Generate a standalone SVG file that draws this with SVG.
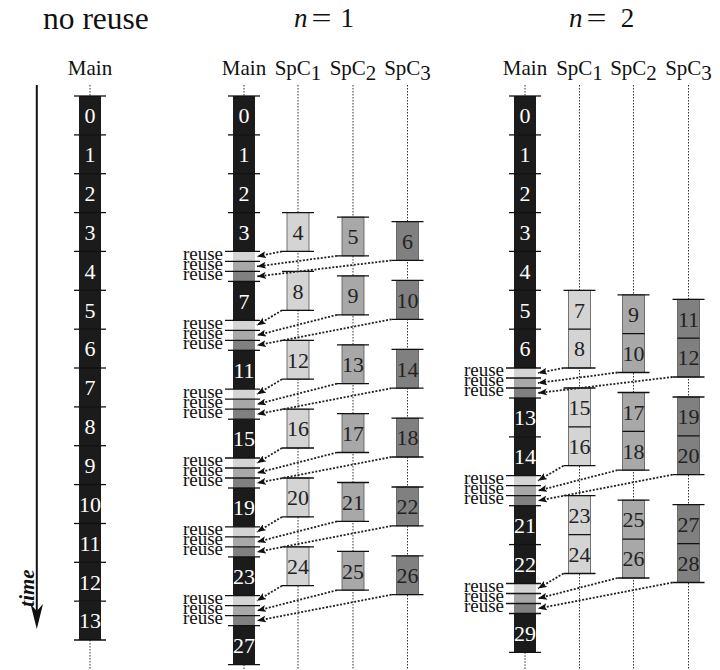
<svg xmlns="http://www.w3.org/2000/svg" width="720" height="670" viewBox="0 0 720 670" font-family="'Liberation Serif', 'Times New Roman', serif">
<defs>
<style>
text{font-family:'Liberation Serif','Times New Roman',serif}
.main{fill:#1b1b1b}
.c1{fill:#d4d4d4}
.c2{fill:#a8a8a8}
.c3{fill:#808080}
.box{stroke:#555;stroke-width:0.8}
.tick{stroke:#111;stroke-width:1.3;fill:none}
.dot{stroke:#333;stroke-width:1;stroke-dasharray:1.5 1.5;fill:none}
.arr{stroke:#222;stroke-width:1.8;stroke-dasharray:2 1.6;fill:none;marker-end:url(#ah)}
.num{font-size:22px;text-anchor:middle}
.w{fill:#fff}
.k{fill:#222}
.ru{font-size:19px;text-anchor:end;fill:#111}
.hd{font-size:21px;text-anchor:middle;fill:#111}
</style>
<marker id="ah" viewBox="0 0 9 7" refX="9" refY="3.5" markerWidth="9" markerHeight="7" markerUnits="userSpaceOnUse" orient="auto"><path d="M0,0 L9,3.5 L0,7 L2,3.5 z" fill="#111"/></marker>
</defs>
<rect width="720" height="670" fill="#fff"/>

<!-- titles -->
<g id="titles" fill="#111">
<text x="43" y="29" font-size="31.5">no reuse</text>
<text x="294" y="27" font-size="27" font-style="italic">n</text>
<text x="311.5" y="27" font-size="27" textLength="20" lengthAdjust="spacingAndGlyphs">=</text>
<text x="347.2" y="27" font-size="27" text-anchor="middle">1</text>
<text x="569" y="27" font-size="27" font-style="italic">n</text>
<text x="586.5" y="27" font-size="27" textLength="20" lengthAdjust="spacingAndGlyphs">=</text>
<text x="627.5" y="27" font-size="27" text-anchor="middle">2</text>
</g>

<!-- headers -->
<g id="headers">
<text class="hd" x="90" y="75">Main</text>
<text class="hd" x="244" y="75">Main</text>
<text class="hd" x="298" y="75">SpC<tspan dy="5">1</tspan></text>
<text class="hd" x="353" y="75">SpC<tspan dy="5">2</tspan></text>
<text class="hd" x="407.5" y="75">SpC<tspan dy="5">3</tspan></text>
<text class="hd" x="525" y="75">Main</text>
<text class="hd" x="579.5" y="75">SpC<tspan dy="5">1</tspan></text>
<text class="hd" x="633.5" y="75">SpC<tspan dy="5">2</tspan></text>
<text class="hd" x="688.5" y="75">SpC<tspan dy="5">3</tspan></text>
</g>

<!-- time axis -->
<g id="time-axis">
<line x1="36.8" y1="85" x2="36.8" y2="612" stroke="#111" stroke-width="2"/>
<polygon points="36.8,629 30.5,604 36.8,611 43,604" fill="#111"/>
<text transform="translate(33.5,588) rotate(-90)" font-size="21" font-weight="bold" font-style="italic" text-anchor="middle" fill="#111">time</text>
</g>

<!-- lifelines -->
<g id="lifelines">
<path class="dot" d="M90 85V96M90 640V670"/>
<path class="dot" d="M244 85V96M244 664.6V670M298 85V670M353 85V670M407.5 85V670"/>
<path class="dot" d="M525 85V96M525 652.3V670M579.5 85V670M633.5 85V670M688.5 85V670"/>
</g>

<!-- panel 1: no reuse -->
<g id="p1-main-0"><rect class="main" x="79" y="96" width="22" height="38.9"/><path class="tick" d="M74 96H106"/><text class="num w" x="90" y="123.2">0</text></g>
<g id="p1-main-1"><rect class="main" x="79" y="134.9" width="22" height="38.9"/><path class="tick" d="M74 134.9H106"/><text class="num w" x="90" y="162.1">1</text></g>
<g id="p1-main-2"><rect class="main" x="79" y="173.7" width="22" height="38.9"/><path class="tick" d="M74 173.7H106"/><text class="num w" x="90" y="200.9">2</text></g>
<g id="p1-main-3"><rect class="main" x="79" y="212.6" width="22" height="38.9"/><path class="tick" d="M74 212.6H106"/><text class="num w" x="90" y="239.8">3</text></g>
<g id="p1-main-4"><rect class="main" x="79" y="251.4" width="22" height="38.9"/><path class="tick" d="M74 251.4H106"/><text class="num w" x="90" y="278.6">4</text></g>
<g id="p1-main-5"><rect class="main" x="79" y="290.3" width="22" height="38.9"/><path class="tick" d="M74 290.3H106"/><text class="num w" x="90" y="317.5">5</text></g>
<g id="p1-main-6"><rect class="main" x="79" y="329.2" width="22" height="38.9"/><path class="tick" d="M74 329.2H106"/><text class="num w" x="90" y="356.4">6</text></g>
<g id="p1-main-7"><rect class="main" x="79" y="368" width="22" height="38.9"/><path class="tick" d="M74 368H106"/><text class="num w" x="90" y="395.2">7</text></g>
<g id="p1-main-8"><rect class="main" x="79" y="406.9" width="22" height="38.9"/><path class="tick" d="M74 406.9H106"/><text class="num w" x="90" y="434.1">8</text></g>
<g id="p1-main-9"><rect class="main" x="79" y="445.7" width="22" height="38.9"/><path class="tick" d="M74 445.7H106"/><text class="num w" x="90" y="472.9">9</text></g>
<g id="p1-main-10"><rect class="main" x="79" y="484.6" width="22" height="38.9"/><path class="tick" d="M74 484.6H106"/><text class="num w" x="90" y="511.8">10</text></g>
<g id="p1-main-11"><rect class="main" x="79" y="523.5" width="22" height="38.9"/><path class="tick" d="M74 523.5H106"/><text class="num w" x="90" y="550.7">11</text></g>
<g id="p1-main-12"><rect class="main" x="79" y="562.3" width="22" height="38.9"/><path class="tick" d="M74 562.3H106"/><text class="num w" x="90" y="589.5">12</text></g>
<g id="p1-main-13"><rect class="main" x="79" y="601.2" width="22" height="38.8"/><path class="tick" d="M74 601.2H106M74 640H106"/><text class="num w" x="90" y="628.4">13</text></g>

<!-- panel 2: n = 1, main -->
<g id="p2-main-0"><rect class="main" x="233" y="96" width="22" height="38.9"/><path class="tick" d="M228 96H260"/><text class="num w" x="244" y="123.2">0</text></g>
<g id="p2-main-1"><rect class="main" x="233" y="134.9" width="22" height="38.9"/><path class="tick" d="M228 134.9H260"/><text class="num w" x="244" y="162.1">1</text></g>
<g id="p2-main-2"><rect class="main" x="233" y="173.7" width="22" height="38.9"/><path class="tick" d="M228 173.7H260"/><text class="num w" x="244" y="200.9">2</text></g>
<g id="p2-main-3"><rect class="main" x="233" y="212.6" width="22" height="38.8"/><path class="tick" d="M228 212.6H260"/><text class="num w" x="244" y="239.8">3</text></g>
<g id="p2-reuse-a"><rect class="c1" x="233" y="251.4" width="22" height="10"/><rect class="c2" x="233" y="261.4" width="22" height="10"/><rect class="c3" x="233" y="271.4" width="22" height="10"/><path class="tick" d="M225 251.4H260M225 261.4H260M225 271.4H260"/><text class="ru" x="223" y="259.7">reuse</text><text class="ru" x="223" y="269.7">reuse</text><text class="ru" x="223" y="279.7">reuse</text></g>
<g id="p2-main-7"><rect class="main" x="233" y="281.4" width="22" height="38.9"/><path class="tick" d="M228 281.4H260"/><text class="num w" x="244" y="308.6">7</text></g>
<g id="p2-reuse-b"><rect class="c1" x="233" y="320.3" width="22" height="10"/><rect class="c2" x="233" y="330.3" width="22" height="10"/><rect class="c3" x="233" y="340.3" width="22" height="10"/><path class="tick" d="M225 320.3H260M225 330.3H260M225 340.3H260"/><text class="ru" x="223" y="328.6">reuse</text><text class="ru" x="223" y="338.6">reuse</text><text class="ru" x="223" y="348.6">reuse</text></g>
<g id="p2-main-11"><rect class="main" x="233" y="350.3" width="22" height="38.9"/><path class="tick" d="M228 350.3H260"/><text class="num w" x="244" y="377.5">11</text></g>
<g id="p2-reuse-c"><rect class="c1" x="233" y="389.2" width="22" height="10"/><rect class="c2" x="233" y="399.2" width="22" height="10"/><rect class="c3" x="233" y="409.2" width="22" height="10"/><path class="tick" d="M225 389.2H260M225 399.2H260M225 409.2H260"/><text class="ru" x="223" y="397.5">reuse</text><text class="ru" x="223" y="407.5">reuse</text><text class="ru" x="223" y="417.5">reuse</text></g>
<g id="p2-main-15"><rect class="main" x="233" y="419.2" width="22" height="38.8"/><path class="tick" d="M228 419.2H260"/><text class="num w" x="244" y="446.4">15</text></g>
<g id="p2-reuse-d"><rect class="c1" x="233" y="458" width="22" height="10"/><rect class="c2" x="233" y="468" width="22" height="10"/><rect class="c3" x="233" y="478" width="22" height="10"/><path class="tick" d="M225 458H260M225 468H260M225 478H260"/><text class="ru" x="223" y="466.3">reuse</text><text class="ru" x="223" y="476.3">reuse</text><text class="ru" x="223" y="486.3">reuse</text></g>
<g id="p2-main-19"><rect class="main" x="233" y="488" width="22" height="38.9"/><path class="tick" d="M228 488H260"/><text class="num w" x="244" y="515.2">19</text></g>
<g id="p2-reuse-e"><rect class="c1" x="233" y="526.9" width="22" height="10"/><rect class="c2" x="233" y="536.9" width="22" height="10"/><rect class="c3" x="233" y="546.9" width="22" height="10"/><path class="tick" d="M225 526.9H260M225 536.9H260M225 546.9H260"/><text class="ru" x="223" y="535.2">reuse</text><text class="ru" x="223" y="545.2">reuse</text><text class="ru" x="223" y="555.2">reuse</text></g>
<g id="p2-main-23"><rect class="main" x="233" y="556.9" width="22" height="38.8"/><path class="tick" d="M228 556.9H260"/><text class="num w" x="244" y="584.1">23</text></g>
<g id="p2-reuse-f"><rect class="c1" x="233" y="595.7" width="22" height="10"/><rect class="c2" x="233" y="605.7" width="22" height="10"/><rect class="c3" x="233" y="615.7" width="22" height="10"/><path class="tick" d="M225 595.7H260M225 605.7H260M225 615.7H260"/><text class="ru" x="223" y="604">reuse</text><text class="ru" x="223" y="614">reuse</text><text class="ru" x="223" y="624">reuse</text></g>
<g id="p2-main-27"><rect class="main" x="233" y="625.7" width="22" height="38.9"/><path class="tick" d="M228 625.7H260M228 664.6H260"/><text class="num w" x="244" y="652.9">27</text></g>

<!-- panel 2: SpC1 -->
<g id="p2-spc1-4"><rect class="c1 box" x="287" y="212.6" width="22" height="38.8"/><path class="tick" d="M282 212.6H314M282 251.4H314"/><text class="num k" x="298" y="239.8">4</text></g>
<g id="p2-spc1-8"><rect class="c1 box" x="287" y="271.4" width="22" height="38.9"/><path class="tick" d="M282 271.4H314M282 310.3H314"/><text class="num k" x="298" y="298.6">8</text></g>
<g id="p2-spc1-12"><rect class="c1 box" x="287" y="340.3" width="22" height="38.9"/><path class="tick" d="M282 340.3H314M282 379.2H314"/><text class="num k" x="298" y="367.5">12</text></g>
<g id="p2-spc1-16"><rect class="c1 box" x="287" y="409.2" width="22" height="38.8"/><path class="tick" d="M282 409.2H314M282 448H314"/><text class="num k" x="298" y="436.4">16</text></g>
<g id="p2-spc1-20"><rect class="c1 box" x="287" y="478" width="22" height="38.9"/><path class="tick" d="M282 478H314M282 516.9H314"/><text class="num k" x="298" y="505.2">20</text></g>
<g id="p2-spc1-24"><rect class="c1 box" x="287" y="546.9" width="22" height="38.8"/><path class="tick" d="M282 546.9H314M282 585.7H314"/><text class="num k" x="298" y="574.1">24</text></g>
<!-- panel 2: SpC2 -->
<g id="p2-spc2-5"><rect class="c2 box" x="342" y="217.1" width="22" height="38.8"/><path class="tick" d="M337 217.1H369M337 255.9H369"/><text class="num k" x="353" y="244.3">5</text></g>
<g id="p2-spc2-9"><rect class="c2 box" x="342" y="275.9" width="22" height="38.9"/><path class="tick" d="M337 275.9H369M337 314.8H369"/><text class="num k" x="353" y="303.1">9</text></g>
<g id="p2-spc2-13"><rect class="c2 box" x="342" y="344.8" width="22" height="38.9"/><path class="tick" d="M337 344.8H369M337 383.7H369"/><text class="num k" x="353" y="372">13</text></g>
<g id="p2-spc2-17"><rect class="c2 box" x="342" y="413.7" width="22" height="38.8"/><path class="tick" d="M337 413.7H369M337 452.5H369"/><text class="num k" x="353" y="440.9">17</text></g>
<g id="p2-spc2-21"><rect class="c2 box" x="342" y="482.5" width="22" height="38.9"/><path class="tick" d="M337 482.5H369M337 521.4H369"/><text class="num k" x="353" y="509.7">21</text></g>
<g id="p2-spc2-25"><rect class="c2 box" x="342" y="551.4" width="22" height="38.8"/><path class="tick" d="M337 551.4H369M337 590.2H369"/><text class="num k" x="353" y="578.6">25</text></g>
<!-- panel 2: SpC3 -->
<g id="p2-spc3-6"><rect class="c3 box" x="396.5" y="221.6" width="22" height="38.8"/><path class="tick" d="M391.5 221.6H423.5M391.5 260.4H423.5"/><text class="num k" x="407.5" y="248.8">6</text></g>
<g id="p2-spc3-10"><rect class="c3 box" x="396.5" y="280.4" width="22" height="38.9"/><path class="tick" d="M391.5 280.4H423.5M391.5 319.3H423.5"/><text class="num k" x="407.5" y="307.6">10</text></g>
<g id="p2-spc3-14"><rect class="c3 box" x="396.5" y="349.3" width="22" height="38.9"/><path class="tick" d="M391.5 349.3H423.5M391.5 388.2H423.5"/><text class="num k" x="407.5" y="376.5">14</text></g>
<g id="p2-spc3-18"><rect class="c3 box" x="396.5" y="418.2" width="22" height="38.8"/><path class="tick" d="M391.5 418.2H423.5M391.5 457H423.5"/><text class="num k" x="407.5" y="445.4">18</text></g>
<g id="p2-spc3-22"><rect class="c3 box" x="396.5" y="487" width="22" height="38.9"/><path class="tick" d="M391.5 487H423.5M391.5 525.9H423.5"/><text class="num k" x="407.5" y="514.2">22</text></g>
<g id="p2-spc3-26"><rect class="c3 box" x="396.5" y="555.9" width="22" height="38.8"/><path class="tick" d="M391.5 555.9H423.5M391.5 594.7H423.5"/><text class="num k" x="407.5" y="583.1">26</text></g>

<!-- panel 3: n = 2, main -->
<g id="p3-main-0"><rect class="main" x="514" y="96" width="22" height="38.9"/><path class="tick" d="M509 96H541"/><text class="num w" x="525" y="123.2">0</text></g>
<g id="p3-main-1"><rect class="main" x="514" y="134.9" width="22" height="38.9"/><path class="tick" d="M509 134.9H541"/><text class="num w" x="525" y="162.1">1</text></g>
<g id="p3-main-2"><rect class="main" x="514" y="173.7" width="22" height="38.9"/><path class="tick" d="M509 173.7H541"/><text class="num w" x="525" y="200.9">2</text></g>
<g id="p3-main-3"><rect class="main" x="514" y="212.6" width="22" height="38.9"/><path class="tick" d="M509 212.6H541"/><text class="num w" x="525" y="239.8">3</text></g>
<g id="p3-main-4"><rect class="main" x="514" y="251.4" width="22" height="38.9"/><path class="tick" d="M509 251.4H541"/><text class="num w" x="525" y="278.6">4</text></g>
<g id="p3-main-5"><rect class="main" x="514" y="290.3" width="22" height="38.9"/><path class="tick" d="M509 290.3H541"/><text class="num w" x="525" y="317.5">5</text></g>
<g id="p3-main-6"><rect class="main" x="514" y="329.2" width="22" height="38.8"/><path class="tick" d="M509 329.2H541"/><text class="num w" x="525" y="356.4">6</text></g>
<g id="p3-reuse-a"><rect class="c1" x="514" y="368" width="22" height="10"/><rect class="c2" x="514" y="378" width="22" height="10"/><rect class="c3" x="514" y="388" width="22" height="10"/><path class="tick" d="M506 368H541M506 378H541M506 388H541"/><text class="ru" x="504" y="376.3">reuse</text><text class="ru" x="504" y="386.3">reuse</text><text class="ru" x="504" y="396.3">reuse</text></g>
<g id="p3-main-13"><rect class="main" x="514" y="398" width="22" height="38.9"/><path class="tick" d="M509 398H541"/><text class="num w" x="525" y="425.2">13</text></g>
<g id="p3-main-14"><rect class="main" x="514" y="436.9" width="22" height="38.8"/><path class="tick" d="M509 436.9H541"/><text class="num w" x="525" y="464.1">14</text></g>
<g id="p3-reuse-b"><rect class="c1" x="514" y="475.7" width="22" height="10"/><rect class="c2" x="514" y="485.7" width="22" height="10"/><rect class="c3" x="514" y="495.7" width="22" height="10"/><path class="tick" d="M506 475.7H541M506 485.7H541M506 495.7H541"/><text class="ru" x="504" y="484">reuse</text><text class="ru" x="504" y="494">reuse</text><text class="ru" x="504" y="504">reuse</text></g>
<g id="p3-main-21"><rect class="main" x="514" y="505.7" width="22" height="38.9"/><path class="tick" d="M509 505.7H541"/><text class="num w" x="525" y="532.9">21</text></g>
<g id="p3-main-22"><rect class="main" x="514" y="544.6" width="22" height="38.9"/><path class="tick" d="M509 544.6H541"/><text class="num w" x="525" y="571.8">22</text></g>
<g id="p3-reuse-c"><rect class="c1" x="514" y="583.5" width="22" height="10"/><rect class="c2" x="514" y="593.5" width="22" height="10"/><rect class="c3" x="514" y="603.5" width="22" height="10"/><path class="tick" d="M506 583.5H541M506 593.5H541M506 603.5H541"/><text class="ru" x="504" y="591.8">reuse</text><text class="ru" x="504" y="601.8">reuse</text><text class="ru" x="504" y="611.8">reuse</text></g>
<g id="p3-main-29"><rect class="main" x="514" y="613.5" width="22" height="38.8"/><path class="tick" d="M509 613.5H541M509 652.3H541"/><text class="num w" x="525" y="640.7">29</text></g>

<!-- panel 3: SpC1 -->
<g id="p3-spc1-7-8"><rect class="c1 box" x="568.5" y="290.3" width="22" height="77.7"/><path class="tick" d="M563.5 290.3H595.5M568.5 329.2H590.5M563.5 368H595.5"/><text class="num k" x="579.5" y="317.5">7</text><text class="num k" x="579.5" y="356.4">8</text></g>
<g id="p3-spc1-15-16"><rect class="c1 box" x="568.5" y="388" width="22" height="77.7"/><path class="tick" d="M563.5 388H595.5M568.5 426.9H590.5M563.5 465.7H595.5"/><text class="num k" x="579.5" y="415.2">15</text><text class="num k" x="579.5" y="454.1">16</text></g>
<g id="p3-spc1-23-24"><rect class="c1 box" x="568.5" y="495.7" width="22" height="77.8"/><path class="tick" d="M563.5 495.7H595.5M568.5 534.6H590.5M563.5 573.5H595.5"/><text class="num k" x="579.5" y="522.9">23</text><text class="num k" x="579.5" y="561.8">24</text></g>
<!-- panel 3: SpC2 -->
<g id="p3-spc2-9-10"><rect class="c2 box" x="622.5" y="294.8" width="22" height="77.7"/><path class="tick" d="M617.5 294.8H649.5M622.5 333.7H644.5M617.5 372.5H649.5"/><text class="num k" x="633.5" y="322">9</text><text class="num k" x="633.5" y="360.9">10</text></g>
<g id="p3-spc2-17-18"><rect class="c2 box" x="622.5" y="392.5" width="22" height="77.7"/><path class="tick" d="M617.5 392.5H649.5M622.5 431.4H644.5M617.5 470.2H649.5"/><text class="num k" x="633.5" y="419.7">17</text><text class="num k" x="633.5" y="458.6">18</text></g>
<g id="p3-spc2-25-26"><rect class="c2 box" x="622.5" y="500.2" width="22" height="77.8"/><path class="tick" d="M617.5 500.2H649.5M622.5 539.1H644.5M617.5 578H649.5"/><text class="num k" x="633.5" y="527.4">25</text><text class="num k" x="633.5" y="566.3">26</text></g>
<!-- panel 3: SpC3 -->
<g id="p3-spc3-11-12"><rect class="c3 box" x="677.5" y="299.3" width="22" height="77.7"/><path class="tick" d="M672.5 299.3H704.5M677.5 338.2H699.5M672.5 377H704.5"/><text class="num k" x="688.5" y="326.5">11</text><text class="num k" x="688.5" y="365.4">12</text></g>
<g id="p3-spc3-19-20"><rect class="c3 box" x="677.5" y="397" width="22" height="77.7"/><path class="tick" d="M672.5 397H704.5M677.5 435.9H699.5M672.5 474.7H704.5"/><text class="num k" x="688.5" y="424.2">19</text><text class="num k" x="688.5" y="463.1">20</text></g>
<g id="p3-spc3-27-28"><rect class="c3 box" x="677.5" y="504.7" width="22" height="77.8"/><path class="tick" d="M672.5 504.7H704.5M677.5 543.6H699.5M672.5 582.5H704.5"/><text class="num k" x="688.5" y="531.9">27</text><text class="num k" x="688.5" y="570.8">28</text></g>

<!-- connectors -->
<g id="connectors">
<path class="arr" d="M282 251.4L257 256.4"/>
<path class="arr" d="M337 255.9L257 266.4"/>
<path class="arr" d="M391.5 260.4L257 276.4"/>
<path class="arr" d="M282 310.3L257 325.3"/>
<path class="arr" d="M337 314.8L257 335.3"/>
<path class="arr" d="M391.5 319.3L257 345.3"/>
<path class="arr" d="M282 379.2L257 394.2"/>
<path class="arr" d="M337 383.7L257 404.2"/>
<path class="arr" d="M391.5 388.2L257 414.2"/>
<path class="arr" d="M282 448L257 463"/>
<path class="arr" d="M337 452.5L257 473"/>
<path class="arr" d="M391.5 457L257 483"/>
<path class="arr" d="M282 516.9L257 531.9"/>
<path class="arr" d="M337 521.4L257 541.9"/>
<path class="arr" d="M391.5 525.9L257 551.9"/>
<path class="arr" d="M282 585.7L257 600.7"/>
<path class="arr" d="M337 590.2L257 610.7"/>
<path class="arr" d="M391.5 594.7L257 620.7"/>
<path class="arr" d="M563.5 368L538 373"/>
<path class="arr" d="M617.5 372.5L538 383"/>
<path class="arr" d="M672.5 377L538 393"/>
<path class="arr" d="M563.5 465.7L538 480.7"/>
<path class="arr" d="M617.5 470.2L538 490.7"/>
<path class="arr" d="M672.5 474.7L538 500.7"/>
<path class="arr" d="M563.5 573.5L538 588.5"/>
<path class="arr" d="M617.5 578L538 598.5"/>
<path class="arr" d="M672.5 582.5L538 608.5"/>
</g>
</svg>
